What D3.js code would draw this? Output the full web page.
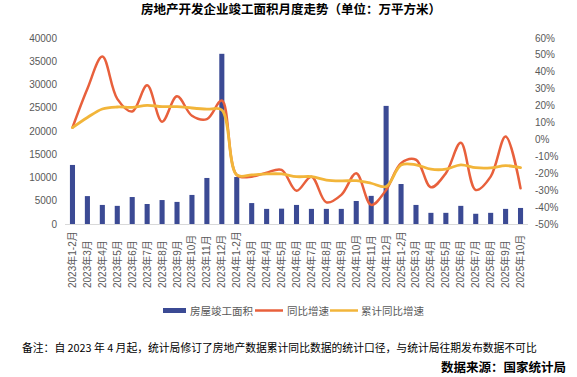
<!DOCTYPE html>
<html>
<head>
<meta charset="utf-8">
<script src="https://cdn.jsdelivr.net/npm/d3@7"></script>
<style>
  body { margin: 0; background: #fff; }
  svg { display: block; }
</style>
</head>
<body>
<div id="chart"></div>
<script>
// months on the x axis
const months = [
  '2023年1-2月', '2023年3月', '2023年4月', '2023年5月', '2023年6月', '2023年7月',
  '2023年8月', '2023年9月', '2023年10月', '2023年11月', '2023年12月',
  '2024年1-2月', '2024年3月', '2024年4月', '2024年5月', '2024年6月', '2024年7月',
  '2024年8月', '2024年9月', '2024年10月', '2024年11月', '2024年12月',
  '2025年1-2月', '2025年3月', '2025年4月', '2025年5月', '2025年6月', '2025年7月',
  '2025年8月', '2025年9月', '2025年10月'
];

// 房屋竣工面积 (万平方米)
const completion = [
  12700, 6000, 4100, 3900, 5800, 4300, 5150, 4750, 6250, 9900, 36600,
  10100, 4500, 3250, 3300, 4100, 3250, 3250, 3250, 4950, 6050, 25400,
  8600, 4100, 2400, 2400, 3900, 2200, 2400, 3250, 3450
];

// 同比增速 (%)
const yoy = [
  7, 30, 49, 24, 16.5, 32, 10.5, 25.5, 14, 12, 23,
  -21, -22, -19.6, -18, -30.3, -22, -37.2, -32.8, -20, -38.7, -29.9,
  -14, -12, -28.3, -20, -2, -29.9, -22, 1.7, -28.9
];

// 累计同比增速 (%)
const cumYoy = [
  7, 13, 18, 19.2, 19, 20.2, 19.4, 19.4, 18.6, 17.9, 17.4,
  -21, -21, -20.4, -20.4, -22, -22, -24, -24.5, -24.4, -25.9, -27.9,
  -15.1, -15, -17.6, -17.6, -15, -16.7, -16.8, -15.5, -16.7
];

const leftTicks = [0, 5000, 10000, 15000, 20000, 25000, 30000, 35000, 40000];
const rightTicks = [-50, -40, -30, -20, -10, 0, 10, 20, 30, 40, 50, 60];

const W = 577, H = 377;
const plot = { left: 65, right: 528, top: 38, bottom: 224 };
const numFont = '"Liberation Sans", Arial, "Noto Sans CJK SC", sans-serif';
const cjkFont = '"Noto Sans CJK SC", "Liberation Sans", sans-serif';
const grey = '#595959';
const barColor = '#3B4A94';
const yoyColor = '#E8603C';
const cumColor = '#F2B53A';

const svg = d3.select('#chart').append('svg')
  .attr('width', W).attr('height', H);

const x = d3.scaleBand().domain(months)
  .range([plot.left, plot.right])
  .paddingInner(0.66).paddingOuter(0.33);
const yL = d3.scaleLinear().domain([0, 40000]).range([plot.bottom, plot.top]);
const yR = d3.scaleLinear().domain([-50, 60]).range([plot.bottom, plot.top]);
const cx = d => x(d) + x.bandwidth() / 2;

// Title
svg.append('text')
  .attr('x', 291).attr('y', 8)
  .attr('text-anchor', 'middle').attr('dominant-baseline', 'central')
  .attr('font-family', cjkFont).attr('font-size', '12.5px').attr('font-weight', 'bold')
  .attr('fill', '#000')
  .text('房地产开发企业竣工面积月度走势（单位：万平方米）');

// Bars
svg.append('g').selectAll('rect')
  .data(months)
  .join('rect')
  .attr('x', d => x(d))
  .attr('y', (d, i) => yL(completion[i]))
  .attr('width', x.bandwidth())
  .attr('height', (d, i) => plot.bottom - yL(completion[i]))
  .attr('fill', barColor);

// Bottom axis line
svg.append('line')
  .attr('x1', plot.left).attr('x2', plot.right)
  .attr('y1', plot.bottom + 0.5).attr('y2', plot.bottom + 0.5)
  .attr('stroke', '#d9d9d9').attr('stroke-width', 1);

// Lines (smoothed like Excel)
const lineYoy = d3.line()
  .x((d, i) => cx(months[i]))
  .y(d => yR(d))
  .curve(d3.curveCatmullRom.alpha(0.5));

svg.append('path')
  .datum(yoy)
  .attr('d', lineYoy)
  .attr('fill', 'none').attr('stroke', yoyColor).attr('stroke-width', 2.5)
  .attr('stroke-linejoin', 'round').attr('stroke-linecap', 'round');

svg.append('path')
  .datum(cumYoy)
  .attr('d', lineYoy)
  .attr('fill', 'none').attr('stroke', cumColor).attr('stroke-width', 2.8)
  .attr('stroke-linejoin', 'round').attr('stroke-linecap', 'round');

// Left axis labels
svg.append('g').selectAll('text')
  .data(leftTicks)
  .join('text')
  .attr('x', 57).attr('y', d => yL(d))
  .attr('text-anchor', 'end').attr('dominant-baseline', 'central')
  .attr('font-family', numFont).attr('font-size', '10px').attr('fill', grey)
  .text(d => d);

// Right axis labels
svg.append('g').selectAll('text')
  .data(rightTicks)
  .join('text')
  .attr('x', 535).attr('y', d => yR(d))
  .attr('text-anchor', 'start').attr('dominant-baseline', 'central')
  .attr('font-family', numFont).attr('font-size', '10px').attr('fill', grey)
  .text(d => d + '%');

// X labels (rotated)
svg.append('g').selectAll('text')
  .data(months)
  .join('text')
  .attr('transform', d => `translate(${cx(d)},288) rotate(-90)`)
  .attr('text-anchor', 'start').attr('dominant-baseline', 'central')
  .attr('font-family', numFont).attr('font-size', '10px').attr('fill', grey)
  .text(d => d);

// Legend
const legend = svg.append('g').attr('font-family', cjkFont).attr('font-size', '10.5px').attr('fill', grey);
legend.append('rect').attr('x', 163).attr('y', 308).attr('width', 23).attr('height', 5).attr('fill', barColor);
legend.append('text').attr('x', 190).attr('y', 310.5).attr('dominant-baseline', 'central').text('房屋竣工面积');
legend.append('line').attr('x1', 255).attr('x2', 283).attr('y1', 310.5).attr('y2', 310.5)
  .attr('stroke', yoyColor).attr('stroke-width', 2.5);
legend.append('text').attr('x', 287).attr('y', 310.5).attr('dominant-baseline', 'central').text('同比增速');
legend.append('line').attr('x1', 330).attr('x2', 358).attr('y1', 310.5).attr('y2', 310.5)
  .attr('stroke', cumColor).attr('stroke-width', 2.5);
legend.append('text').attr('x', 361).attr('y', 310.5).attr('dominant-baseline', 'central').text('累计同比增速');

// Footnote
svg.append('text')
  .attr('x', 22).attr('y', 346.5)
  .attr('dominant-baseline', 'central')
  .attr('font-family', cjkFont).attr('font-size', '10.8px').attr('fill', '#000')
  .text('备注：自 2023 年 4 月起，统计局修订了房地产数据累计同比数据的统计口径，与统计局往期发布数据不可比');

// Source
svg.append('text')
  .attr('x', 566).attr('y', 366.5)
  .attr('text-anchor', 'end').attr('dominant-baseline', 'central')
  .attr('font-family', cjkFont).attr('font-size', '12.5px').attr('font-weight', 'bold')
  .attr('fill', '#000')
  .text('数据来源：国家统计局');
</script>
</body>
</html>
